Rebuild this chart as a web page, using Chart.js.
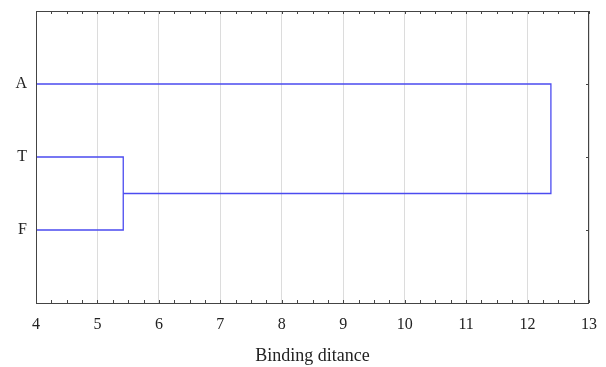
<!DOCTYPE html>
<html>
<head>
<meta charset="utf-8">
<script src="https://cdn.jsdelivr.net/npm/chart.js@4"></script>
<style>
  body { margin: 0; background: #fff; }
  canvas { display: block; }
</style>
</head>
<body>
<canvas id="chart" width="606" height="367"></canvas>
<script>
// Leaves, top to bottom, and their row position on the y axis
const leaves = ["A", "T", "F"];
const leafRows = [3, 2, 1];
// Linkage distances: T+F join first, then (T,F)+A
const joinTF = 5.42;
const joinAll = 12.38;
const xTicks = [4, 5, 6, 7, 8, 9, 10, 11, 12, 13];

const lineColor = "#4b4bf0";
const midTF = (leafRows[1] + leafRows[2]) / 2;

// Dendrogram drawn as two polylines
const branchTF = [
    { x: xTicks[0], y: leafRows[1] },
    { x: joinTF, y: leafRows[1] },
    { x: joinTF, y: leafRows[2] },
    { x: xTicks[0], y: leafRows[2] }
];
const branchAll = [
    { x: joinTF, y: midTF },
    { x: joinAll, y: midTF },
    { x: joinAll, y: leafRows[0] },
    { x: xTicks[0], y: leafRows[0] }
];

// Frame box plus small inward ticks like the original plot
const framePlugin = {
    id: "frame",
    afterDraw(chart) {
        const ctx = chart.ctx;
        const a = chart.chartArea;
        const xs = chart.scales.x;
        const ys = chart.scales.y;
        ctx.save();
        ctx.strokeStyle = "#444";
        ctx.lineWidth = 1;
        ctx.strokeRect(a.left + 0.5, a.top + 0.5, a.right - a.left - 1, a.bottom - a.top);
        ctx.beginPath();
        for (let v = xTicks[0]; v <= xTicks[xTicks.length - 1] + 0.001; v += 0.25) {
            const px = Math.round(xs.getPixelForValue(v)) + 0.5;
            ctx.moveTo(px, a.bottom);
            ctx.lineTo(px, a.bottom - 3);
            ctx.moveTo(px, a.top);
            ctx.lineTo(px, a.top + 3);
        }
        leafRows.forEach(r => {
            const py = Math.round(ys.getPixelForValue(r)) + 0.5;
            ctx.moveTo(a.right, py);
            ctx.lineTo(a.right - 3, py);
        });
        ctx.stroke();
        ctx.restore();
    }
};

const serif = "'Liberation Serif', 'DejaVu Serif', serif";

// Drop the automatic label overhang so the plot box sits where the padding says
function noOverhang(scale) {
    scale.paddingTop = 0;
    scale.paddingBottom = 0;
    scale.paddingLeft = 0;
    scale.paddingRight = 0;
}

new Chart(document.getElementById("chart").getContext("2d"), {
    type: "scatter",
    data: {
        datasets: [
            { data: branchTF, showLine: true, borderColor: lineColor, borderWidth: 1.3, pointRadius: 0, fill: false },
            { data: branchAll, showLine: true, borderColor: lineColor, borderWidth: 1.3, pointRadius: 0, fill: false }
        ]
    },
    options: {
        responsive: false,
        animation: false,
        layout: { padding: { top: 11, right: 17 } },
        plugins: {
            legend: { display: false },
            tooltip: { enabled: false }
        },
        scales: {
            x: {
                type: "linear",
                min: 4,
                max: 13,
                afterFit(scale) { scale.height = 64; noOverhang(scale); },
                afterBuildTicks(scale) { scale.ticks = xTicks.map(v => ({ value: v })); },
                grid: { color: "#dcdcdc", drawTicks: false },
                border: { display: false },
                ticks: { color: "#222", padding: 12, font: { family: serif, size: 16 } },
                title: {
                    display: true,
                    text: "Binding ditance",
                    color: "#222",
                    padding: { top: 4, bottom: 0 },
                    font: { family: serif, size: 18 }
                }
            },
            y: {
                type: "linear",
                min: 0,
                max: 4,
                afterFit(scale) { scale.width = 36; noOverhang(scale); },
                afterBuildTicks(scale) { scale.ticks = leafRows.map(v => ({ value: v })); },
                grid: { display: false, drawTicks: false },
                border: { display: false },
                ticks: {
                    color: "#222",
                    padding: 9,
                    font: { family: serif, size: 16 },
                    callback: v => leaves[leafRows.indexOf(v)] || ""
                }
            }
        }
    },
    plugins: [framePlugin]
});
</script>
</body>
</html>
